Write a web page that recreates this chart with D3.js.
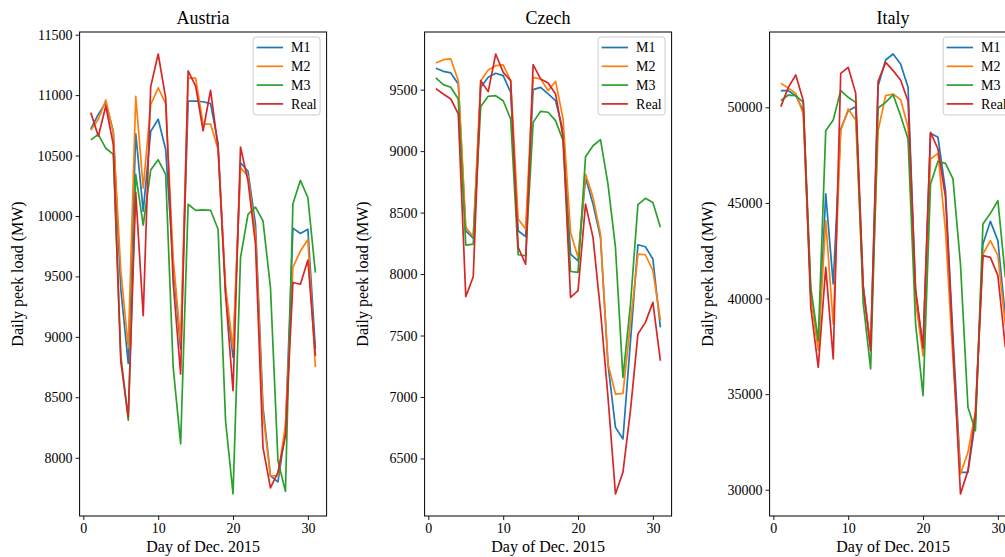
<!DOCTYPE html>
<html>
<head>
<meta charset="utf-8">
<script src="https://cdn.jsdelivr.net/npm/d3@7"></script>
<style>
  body { margin: 0; background: #fff; overflow: hidden; }
  svg text { font-family: "Liberation Serif", "Times New Roman", "DejaVu Serif", serif !important; fill: #000; }
</style>
</head>
<body>
<script>
// day of December 2015
const days = [1,2,3,4,5,6,7,8,9,10,11,12,13,14,15,16,17,18,19,20,21,22,23,24,25,26,27,28,29,30,31];
const seriesNames = ["M1", "M2", "M3", "Real"];
const xTicks = [0, 10, 20, 30];

// Austria
const austriaM1   = [10720,10840,10940,10700,9400,8780,10680,10040,10700,10800,10550,9600,8900,10950,10950,10945,10930,10600,9370,8830,10440,10370,9930,8420,7850,7800,8220,9900,9855,9890,8900];
const austriaM2   = [10710,10800,10960,10690,9550,8910,10990,10230,10920,11060,10930,9650,8960,11140,11140,10760,10760,10550,9420,8900,10400,10330,9850,8360,7850,7850,8270,9575,9710,9805,8750];
const austriaM3   = [10630,10675,10560,10510,8850,8310,10345,9925,10380,10465,10345,8750,8115,10097,10047,10050,10047,9890,8306,7700,9656,10014,10074,9959,9408,7975,7722,10102,10295,10151,9532];
const austriaReal = [10855,10660,10910,10590,8800,8335,10195,9175,11070,11340,10975,9450,8692,11200,11075,10705,11040,10564,9350,8554,10570,10290,9766,8086,7750,7880,8182,9450,9435,9635,8843];
const austriaTicks = [8000,8500,9000,9500,10000,10500,11000,11500];

// Czech
const czechM1   = [9674,9649,9636,9546,8352,8293,9519,9600,9633,9614,9478,8352,8304,9500,9519,9465,9410,9166,8162,8108,8786,8569,8298,7268,6753,6659,7450,8238,8222,8122,7566];
const czechM2   = [9717,9744,9750,9573,8380,8304,9573,9660,9695,9701,9573,8447,8366,9600,9587,9492,9568,9261,8339,8135,8813,8624,8325,7268,7024,7030,7600,8162,8157,8027,7626];
const czechM3   = [9595,9541,9519,9424,8236,8244,9362,9446,9451,9410,9261,8157,8149,9234,9324,9316,9248,9085,8021,8013,8955,9044,9093,8732,8217,7160,7750,8564,8616,8583,8380];
const czechReal = [9508,9465,9424,9302,7816,7978,9573,9484,9790,9641,9573,8217,8081,9703,9587,9554,9465,9112,7810,7865,8569,8298,7700,7000,6211,6388,6889,7512,7607,7770,7295];
const czechTicks = [6500,7000,7500,8000,8500,9000,9500];

// Italy
const italyM1   = [50870,50870,50609,49826,40250,37450,45470,40760,48867,49826,50035,40700,37400,51133,52475,52789,52266,51046,40300,37500,48640,48431,45642,38000,30910,30910,33613,42852,44038,43027,39000];
const italyM2   = [51252,51009,50730,49652,40200,37300,44073,38668,48780,49913,49338,40500,37560,48780,50610,50697,50406,48954,39900,37000,47298,47594,43550,36800,30823,31957,34100,42330,43027,42242,38600];
const italyM3   = [50348,50643,50609,50261,40590,37800,48780,49338,50872,50523,50261,39800,36314,49965,50261,50663,49564,48343,38700,34921,45990,47176,47071,46252,41806,34310,33090,43898,44456,45119,41109];
const italyReal = [50035,51043,51690,50349,39540,36402,41632,36837,51778,52092,50743,40600,37273,51360,52354,51918,51429,50314,40500,37400,48692,47820,45293,37500,29777,31000,33950,42242,42155,41196,37448];
const italyTicks = [30000,35000,40000,45000,50000];

const colors = ["#1f77b4", "#ff7f0e", "#2ca02c", "#d62728"];
const serif = '"Liberation Serif", "Times New Roman", "DejaVu Serif", serif';

const width = 1005, height = 557;
const axTop = 32, axBottom = 516, axWidth = 247;

const panels = [
  { title: "Austria", left: 79.6, data: [austriaM1, austriaM2, austriaM3, austriaReal], ticks: austriaTicks },
  { title: "Czech",   left: 424.6, data: [czechM1, czechM2, czechM3, czechReal], ticks: czechTicks },
  { title: "Italy",   left: 769.6, data: [italyM1, italyM2, italyM3, italyReal], ticks: italyTicks }
];

const svg = d3.select("body").append("svg")
    .attr("width", width)
    .attr("height", height)
    .attr("font-family", serif);

panels.forEach(p => {
  // matplotlib style autoscale, 5% margins
  const all = p.data.flat();
  const lo = d3.min(all), hi = d3.max(all);
  const pad = (hi - lo) * 0.05;
  const xPad = (d3.max(days) - d3.min(days)) * 0.05;

  const x = d3.scaleLinear()
      .domain([d3.min(days) - xPad, d3.max(days) + xPad])
      .range([p.left, p.left + axWidth]);
  const y = d3.scaleLinear()
      .domain([lo - pad, hi + pad])
      .range([axBottom, axTop]);

  const g = svg.append("g");

  // lines
  const line = d3.line()
      .x((d, i) => x(days[i]))
      .y(d => y(d));

  g.selectAll("path.series")
      .data(p.data)
      .enter().append("path")
      .attr("class", "series")
      .attr("d", d => line(d))
      .attr("fill", "none")
      .attr("stroke", (d, i) => colors[i])
      .attr("stroke-width", 1.7)
      .attr("stroke-linejoin", "round");

  // axes
  const xAxis = d3.axisBottom(x).tickValues(xTicks).tickFormat(d3.format("d")).tickSize(4).tickPadding(3);
  const yAxis = d3.axisLeft(y).tickValues(p.ticks).tickFormat(d3.format("d")).tickSize(4).tickPadding(3);

  const gx = g.append("g")
      .attr("transform", `translate(0,${axBottom})`)
      .call(xAxis);
  const gy = g.append("g")
      .attr("transform", `translate(${p.left},0)`)
      .call(yAxis);

  [gx, gy].forEach(a => {
    a.attr("font-family", serif);
    a.select(".domain").remove();
    a.selectAll("line").attr("stroke", "#000").attr("stroke-width", 0.9);
    a.selectAll("text").style("font-family", serif).style("font-size", "14px");
  });

  // frame
  g.append("rect")
      .attr("x", p.left)
      .attr("y", axTop)
      .attr("width", axWidth)
      .attr("height", axBottom - axTop)
      .attr("fill", "none")
      .attr("stroke", "#000")
      .attr("stroke-width", 1);

  // title and labels
  g.append("text")
      .attr("x", p.left + axWidth / 2)
      .attr("y", 24)
      .attr("text-anchor", "middle")
      .style("font-size", "18px")
      .text(p.title);

  g.append("text")
      .attr("x", p.left + axWidth / 2)
      .attr("y", 552)
      .attr("text-anchor", "middle")
      .style("font-size", "16px")
      .text("Day of Dec. 2015");

  g.append("text")
      .attr("transform", `translate(${p.left - 57},${(axTop + axBottom) / 2}) rotate(-90)`)
      .attr("text-anchor", "middle")
      .style("font-size", "16px")
      .text("Daily peek load (MW)");

  // legend (Italy's is clipped by the window edge, as in the original)
  const lx = p.left + axWidth - 73.5, ly = axTop + 5;
  g.append("rect")
      .attr("x", lx)
      .attr("y", ly)
      .attr("width", 67)
      .attr("height", 78)
      .attr("rx", 3)
      .attr("fill", "#fff")
      .attr("fill-opacity", 0.8)
      .attr("stroke", "#ccc")
      .attr("stroke-width", 1);

  const items = g.selectAll("g.leg")
      .data(seriesNames)
      .enter().append("g")
      .attr("class", "leg")
      .attr("transform", (d, i) => `translate(${lx},${ly + 10.5 + i * 18.8})`);

  items.append("line")
      .attr("x1", 3.5).attr("x2", 30)
      .attr("stroke", (d, i) => colors[i])
      .attr("stroke-width", 1.7);

  items.append("text")
      .attr("x", 38)
      .attr("dy", "0.35em")
      .style("font-size", "14px")
      .text(d => d);
});
</script>
</body>
</html>
